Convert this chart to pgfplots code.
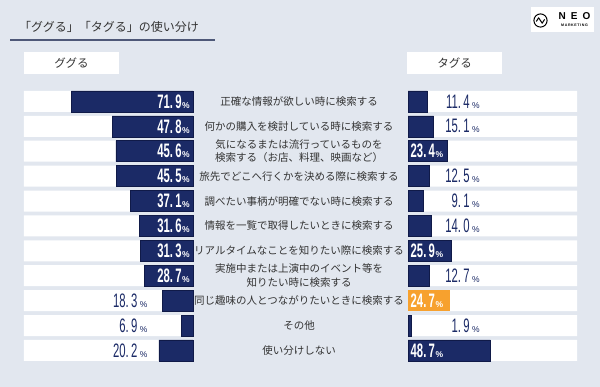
\documentclass[border=0pt]{standalone}
\usepackage{pgfplots}
\pgfplotsset{compat=1.18}
\usepackage{graphicx}
\usepackage{fontspec}
\setmainfont{Noto Sans CJK JP}
\newfontfamily\numfont{Liberation Sans}
\definecolor{bg}{HTML}{E2E7EF}
\definecolor{navy}{HTML}{1B2A66}
\definecolor{navyedge}{HTML}{101A48}
\definecolor{orng}{HTML}{F7A12E}
\definecolor{txt}{HTML}{333333}
\definecolor{rule}{HTML}{4E5878}
\newcommand\vin[2]{{\numfont\bfseries\color{white}\scalebox{0.58}[1]{\fontsize{19.5}{20}\selectfont #1.\kern4pt#2}\kern0.6pt{\fontsize{8.5}{9}\selectfont\%}}}
\newcommand\vout[2]{{\numfont\color{navy}\scalebox{0.58}[1]{\fontsize{19.5}{20}\selectfont #1.\kern4pt#2}\kern2.5pt{\fontsize{8.5}{9}\selectfont\%}}}
\begin{document}
\begin{tikzpicture}[x=1pt,y=1pt]
\fill[bg] (0,0) rectangle (600,387);
% title
\node[anchor=west, inner sep=0pt, text=txt, font=\fontsize{12}{14}\selectfont] at (19,360) {「ググる」「タグる」の使い分け};
\draw[rule, line width=1.3pt] (10,347) -- (215,347);
% logo
\fill[white] (531,355) rectangle (594,380);
\draw[line width=1pt] (540.5,366.5) circle (6.6);
\draw[line width=1pt, line join=round] (536.3,365.5) -- (538.6,369.2) -- (542.2,363.8) -- (544.6,367.6);
\node[inner sep=0pt, font=\numfont\bfseries\fontsize{10}{10}\selectfont] at (574.5,370.5) {N\hspace{5pt}E\hspace{5pt}O};
\node[inner sep=0pt, font=\numfont\bfseries\fontsize{3.6}{4}\selectfont] at (574.5,362) {M\,A\,R\,K\,E\,T\,I\,N\,G};
% headers
\fill[white] (24,313) rectangle (119,335);
\node[text=txt, font=\fontsize{11.5}{13}\selectfont] at (71.5,324) {ググる};
\fill[white] (407,313) rectangle (502,335);
\node[text=txt, font=\fontsize{11.5}{13}\selectfont] at (454.5,324) {タグる};

% left axis
\begin{axis}[at={(24pt,298pt)}, anchor=north west, scale only axis,
  width=169pt, height=273.9pt, xmin=0, xmax=100, ymin=-0.5, ymax=10.5,
  y dir=reverse, x dir=reverse, axis line style={draw=none},
  xtick=\empty, ytick=\empty, clip=false]
\addplot[xbar, bar shift=0pt, bar width=21pt, fill=white, draw=none]
  coordinates {(100,0) (100,1) (100,2) (100,3) (100,4) (100,5) (100,6) (100,7) (100,8) (100,9) (100,10)};
\addplot[xbar, bar shift=0pt, bar width=21pt, fill=navy, draw=navyedge, line width=0.6pt]
  coordinates {(71.9,0) (47.8,1) (45.6,2) (45.5,3) (37.1,4) (31.6,5) (31.3,6) (28.7,7) (18.3,8) (6.9,9) (20.2,10)};
\addplot[draw=none, mark=none, nodes near coords, point meta=explicit symbolic,
  every node near coord/.append style={anchor=east, xshift=-3pt, inner sep=0pt}]
  coordinates {(0,0)[\vin{71}{9}] (0,1)[\vin{47}{8}] (0,2)[\vin{45}{6}] (0,3)[\vin{45}{5}]
   (0,4)[\vin{37}{1}] (0,5)[\vin{31}{6}] (0,6)[\vin{31}{3}] (0,7)[\vin{28}{7}]};
\addplot[draw=none, mark=none, nodes near coords, point meta=explicit symbolic,
  every node near coord/.append style={anchor=east, inner sep=0pt}]
  coordinates {(26.8,8)[\vout{18}{3}] (26.8,9)[\vout{6}{9}] (26.8,10)[\vout{20}{2}]};
\end{axis}

% right axis
\begin{axis}[at={(408pt,298pt)}, anchor=north west, scale only axis,
  width=169pt, height=273.9pt, xmin=0, xmax=100, ymin=-0.5, ymax=10.5,
  y dir=reverse, axis line style={draw=none}, xtick=\empty,
  ytick={0,1,2,3,4,5,6,7,8,9,10}, major tick length=0pt,
  yticklabels={正確な情報が欲しい時に検索する, 何かの購入を検討している時に検索する,
    {気になるまたは流行っているものを\\検索する（お店、料理、映画など）},
    旅先でどこへ行くかを決める際に検索する, 調べたい事柄が明確でない時に検索する,
    情報を一覧で取得したいときに検索する, リアルタイムなことを知りたい際に検索する,
    {実施中または上演中のイベント等を\\知りたい時に検索する},
    同じ趣味の人とつながりたいときに検索する, その他, 使い分けしない},
  yticklabel style={anchor=center, xshift=-109pt, align=center, text=txt,
    font=\fontsize{10.5}{13.5}\selectfont, inner sep=0pt},
  clip=false]
\addplot[xbar, bar shift=0pt, bar width=21pt, fill=white, draw=none]
  coordinates {(100,0) (100,1) (100,2) (100,3) (100,4) (100,5) (100,6) (100,7) (100,8) (100,9) (100,10)};
\addplot[xbar, bar shift=0pt, bar width=21pt, fill=navy, draw=navyedge, line width=0.6pt]
  coordinates {(11.4,0) (15.1,1) (23.4,2) (12.5,3) (9.1,4) (14.0,5) (25.9,6) (12.7,7) (1.9,9) (48.7,10)};
\addplot[xbar, bar shift=0pt, bar width=21pt, fill=orng, draw=none]
  coordinates {(24.7,8)};
\addplot[draw=none, mark=none, nodes near coords, point meta=explicit symbolic,
  every node near coord/.append style={anchor=west, xshift=2.5pt, inner sep=0pt}]
  coordinates {(0,2)[\vin{23}{4}] (0,6)[\vin{25}{9}] (0,8)[\vin{24}{7}] (0,10)[\vin{48}{7}]};
\addplot[draw=none, mark=none, nodes near coords, point meta=explicit symbolic,
  every node near coord/.append style={anchor=east, inner sep=0pt}]
  coordinates {(42.6,0)[\vout{11}{4}] (42.6,1)[\vout{15}{1}] (42.6,3)[\vout{12}{5}]
   (42.6,4)[\vout{9}{1}] (42.6,5)[\vout{14}{0}] (42.6,7)[\vout{12}{7}] (42.6,9)[\vout{1}{9}]};
\end{axis}
\end{tikzpicture}
\end{document}
